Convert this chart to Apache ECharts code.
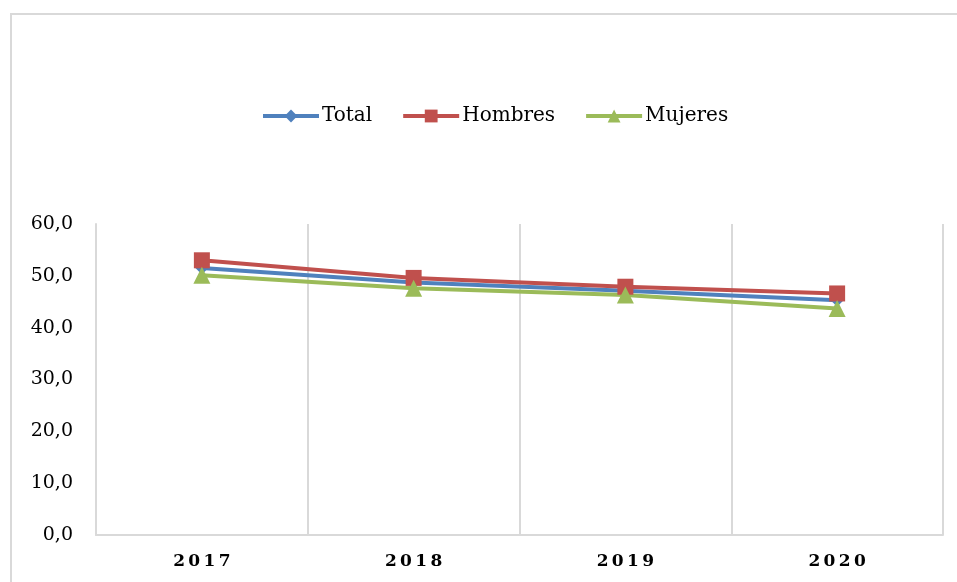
<!DOCTYPE html>
<html>
<head>
<meta charset="utf-8">
<script src="https://cdn.jsdelivr.net/npm/echarts@6/dist/echarts.min.js"></script>
<style>
html,body{margin:0;padding:0;background:#fff;}
#c{width:957px;height:582px;}
</style>
</head>
<body>
<div id="c"></div>
<script>
var categories = ['2017', '2018', '2019', '2020'];
var total = [51.5, 48.7, 47.1, 45.3];
var hombres = [53.0, 49.6, 47.9, 46.6];
var mujeres = [50.1, 47.6, 46.3, 43.7];
var yTicks = [0, 10, 20, 30, 40, 50, 60];

var chart = echarts.init(document.getElementById('c'));
var serif = 'DejaVu Serif';
chart.setOption({
  animation: false,
  backgroundColor: '#fff',
  graphic: [{
    type: 'rect',
    shape: {x: 11, y: 14, width: 960, height: 600},
    style: {fill: 'none', stroke: '#d9d9d9', lineWidth: 2},
    silent: true
  }],
  legend: {
    top: 101,
    left: 256,
    itemWidth: 56,
    itemHeight: 16,
    itemGap: 29,
    lineStyle: {width: 4},
    textStyle: {fontFamily: serif, fontSize: 20, color: '#000', padding: [0, 0, 0, -2]},
    data: ['Total', 'Hombres', 'Mujeres']
  },
  grid: {left: 96, right: 14, top: 224, bottom: 47},
  xAxis: {
    type: 'category',
    data: categories,
    boundaryGap: true,
    axisLine: {lineStyle: {color: '#d9d9d9', width: 2}},
    axisTick: {show: false},
    splitLine: {show: true, lineStyle: {color: '#d9d9d9', width: 2}},
    axisLabel: {
      margin: 18,
      fontFamily: serif,
      fontWeight: 'bold',
      fontSize: 17,
      color: '#000',
      formatter: function (v) { return v.split('').join('\u2009'); }
    }
  },
  yAxis: {
    type: 'value',
    min: yTicks[0],
    max: yTicks[yTicks.length - 1],
    interval: 10,
    axisLine: {show: true, lineStyle: {color: '#d9d9d9', width: 2}},
    axisTick: {show: false},
    splitLine: {show: false},
    axisLabel: {
      margin: 23,
      fontFamily: serif,
      fontSize: 19,
      color: '#000',
      formatter: function (v) { return v.toFixed(1).replace('.', ','); }
    }
  },
  series: [
    {
      name: 'Total', type: 'line', data: total,
      symbol: 'diamond', symbolSize: 13,
      itemStyle: {color: '#4F81BD'},
      lineStyle: {color: '#4F81BD', width: 4}
    },
    {
      name: 'Hombres', type: 'line', data: hombres,
      symbol: 'rect', symbolSize: 16,
      itemStyle: {color: '#C0504D'},
      lineStyle: {color: '#C0504D', width: 4}
    },
    {
      name: 'Mujeres', type: 'line', data: mujeres,
      symbol: 'triangle', symbolSize: 17,
      itemStyle: {color: '#9BBB59'},
      lineStyle: {color: '#9BBB59', width: 4}
    }
  ]
});
</script>
</body>
</html>
